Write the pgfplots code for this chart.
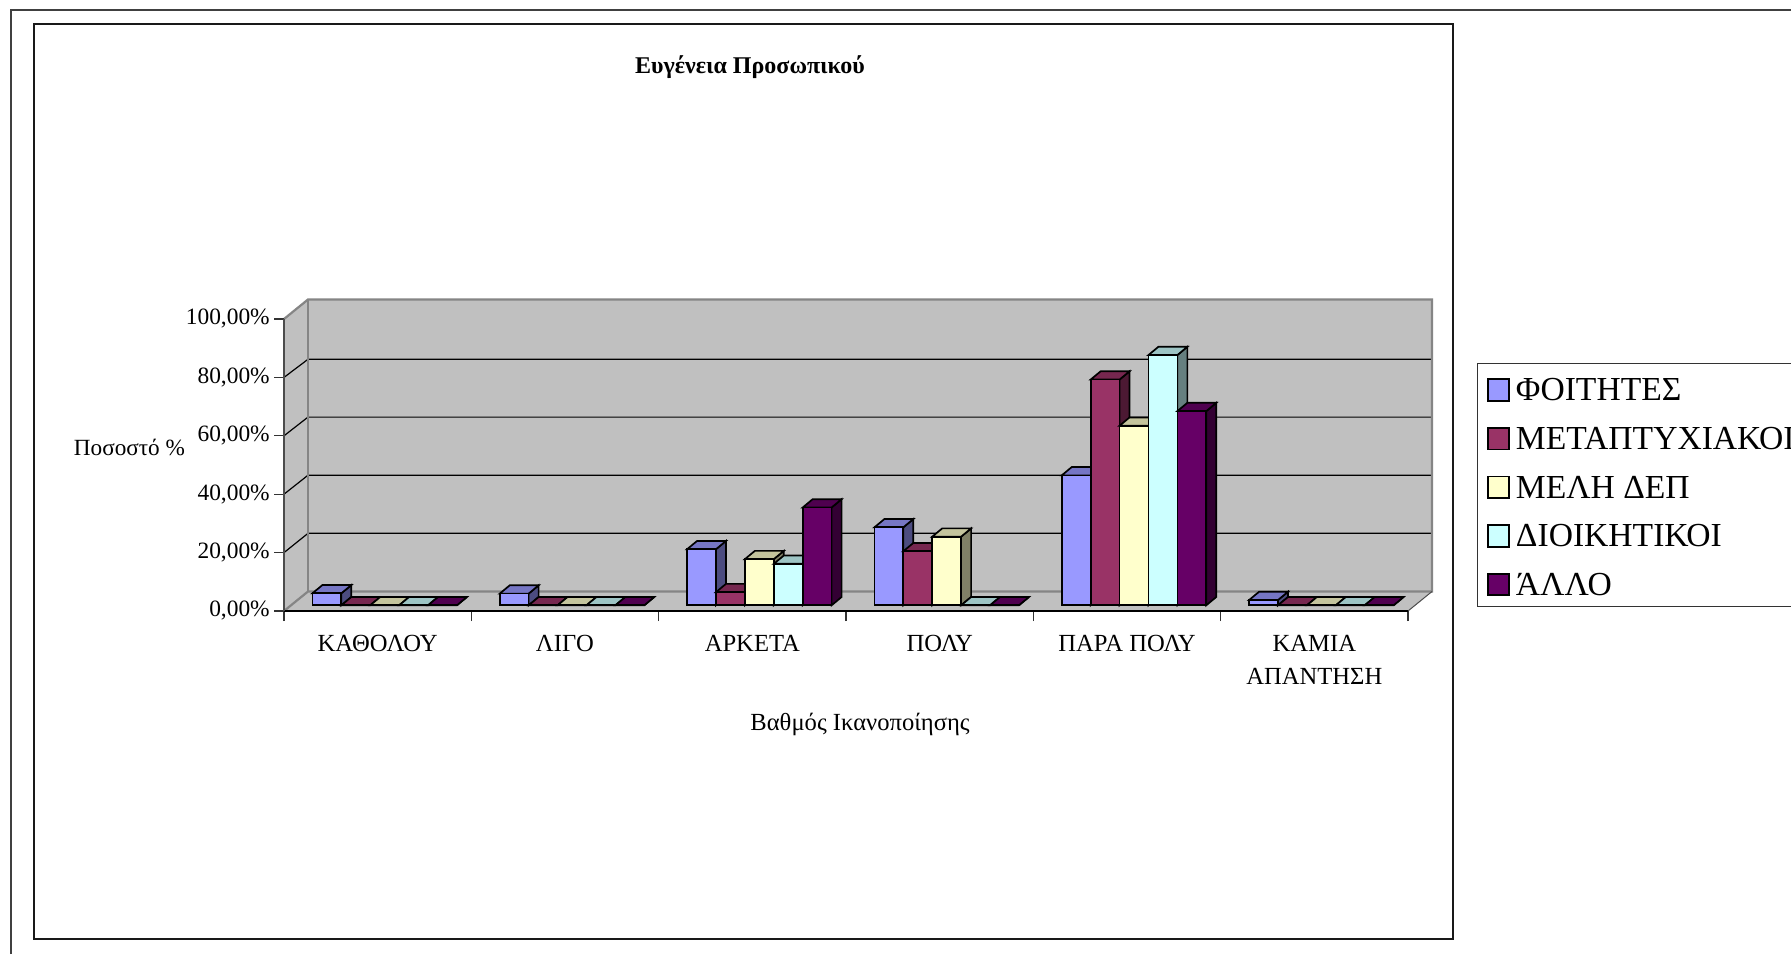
\documentclass[border=0pt]{standalone}
\usepackage{fontspec}
\setmainfont{Liberation Serif}
\usepackage{pgfplots}
\usepackage{pgfplotstable}
\pgfplotsset{compat=1.18}

\definecolor{wall}{HTML}{C0C0C0}
\definecolor{wallline}{HTML}{858585}
\definecolor{sA}{HTML}{9999FF}
\definecolor{sB}{HTML}{993366}
\definecolor{sC}{HTML}{FFFFCC}
\definecolor{sD}{HTML}{CCFFFF}
\definecolor{sE}{HTML}{660066}

% Share of answers (%) per satisfaction level and respondent group
\pgfplotstableread{
c s1   s2   s3   s4   s5
0 4.1  0    0    0    0
1 4.0  0    0    0    0
2 19.2 4.5  15.8 14.2 33.5
3 26.7 18.5 23.5 0    0
4 44.5 77.3 61.5 85.7 66.5
5 1.8  0    0    0    0
}\barvalues

\def\barw{0.1543}
\def\depx{0.05338}
\def\depy{2.842}

% Top and side faces of every column in one series
\newcommand{\depthfaces}[2]{%
  \pgfplotsforeachungrouped \c in {0,...,5}{%
    \pgfplotstablegetelem{\c}{s#1}\of\barvalues
    \pgfmathsetmacro\yt{\pgfplotsretval}%
    \pgfmathsetmacro\xl{\c+0.5+(#1-3)*\barw-\barw/2}%
    \pgfmathsetmacro\xr{\xl+\barw}%
    \pgfmathsetmacro\xlb{\xl+\depx}%
    \pgfmathsetmacro\xrb{\xr+\depx}%
    \pgfmathsetmacro\ytb{\yt+\depy}%
    \edef\facecmd{%
      \noexpand\addplot[forget plot,fill=#2!50!black,draw=black,line width=0.85pt]
        coordinates {(\xr,0) (\xrb,\depy) (\xrb,\ytb) (\xr,\yt)} -- cycle;
      \noexpand\addplot[forget plot,fill=#2!77!black,draw=black,line width=0.85pt]
        coordinates {(\xl,\yt) (\xlb,\ytb) (\xrb,\ytb) (\xr,\yt)} -- cycle;
    }\facecmd
  }%
}

% Front faces of one series, plain bars read from the table
\newcommand{\frontfaces}[2]{%
  \addplot[ybar,bar width=\barw,bar shift=0pt,fill=#2,draw=black,line width=0.85pt,
    legend image code/.code={\draw[fill=#2,draw=black,line width=0.95pt] (0pt,0pt) rectangle (10.4pt,10.8pt);}]
    table[x expr=\thisrow{c}+0.5+(#1-3)*\barw,y=s#1]{\barvalues};
}

\begin{document}
\begin{tikzpicture}
\useasboundingbox (0,0) rectangle (895.5pt,477pt);
\clip (0,0) rectangle (895.5pt,477pt);
\fill[white] (0,0) rectangle (895.5pt,477pt);

% Outer frame, open on the right and at the bottom, and inner chart frame
\draw[black!75,line width=0.65pt] (5.5pt,0) -- (5.5pt,472pt) -- (900pt,472pt);
\draw[black!90,line width=0.6pt] (17pt,7.5pt) rectangle (726.5pt,465pt);

% Walls, floor, gridlines and scales
\begin{axis}[
  at={(142pt,171.5pt)},anchor=south west,
  scale only axis,width=562pt,height=146pt,
  xmin=0,xmax=6,ymin=0,ymax=100,clip=false,axis on top,
  axis x line=bottom,axis y line=left,
  axis line style={-,line width=0.7pt},
  x axis line style={black},
  y axis line style={black!70},
  tick style={black!80,line width=0.55pt},
  tick align=outside,
  major tick length=5pt,
  xtick={0,1,2,3,4,5,6},
  x tick label as interval,
  xticklabels={ΚΑΘΟΛΟΥ,ΛΙΓΟ,ΑΡΚΕΤΑ,ΠΟΛΥ,ΠΑΡΑ ΠΟΛΥ,{ΚΑΜΙΑ\\ΑΠΑΝΤΗΣΗ}},
  xticklabel style={align=center,font=\fontsize{12.3pt}{16.5pt}\selectfont,anchor=north,yshift=-3.8pt},
  ytick={0,20,40,60,80,100},
  yticklabels={{0,00\%},{20,00\%},{40,00\%},{60,00\%},{80,00\%},{100,00\%}},
  yticklabel style={font=\fontsize{11.7pt}{13pt}\selectfont,xshift=1.4pt},
  title={\textbf{Ευγένεια Προσωπικού}},
  title style={at={(axis description cs:0.4146,1.823)},anchor=center,yshift=0pt,font=\fontsize{12pt}{14pt}\selectfont},
  xlabel={Βαθμός Ικανοποίησης},
  xlabel style={at={(axis description cs:0.5125,-0.3836)},anchor=center,yshift=-0.6pt,font=\fontsize{12.3pt}{14pt}\selectfont},
  ylabel={Ποσοστό \%},
  ylabel style={at={(axis description cs:-0.1375,0.5616)},anchor=center,rotate=-90,font=\fontsize{11.6pt}{13pt}\selectfont},
]
\fill[wall] (axis cs:0,0) -- (axis cs:0.1281,6.68) -- (axis cs:0.1281,106.68) -- (axis cs:0,100) -- cycle;
\fill[wall] (axis cs:0.1281,6.68) rectangle (axis cs:6.1281,106.68);
\fill[wall] (axis cs:0,0) -- (axis cs:6,0) -- (axis cs:6.1281,6.68) -- (axis cs:0.1281,6.68) -- cycle;
% Gridlines run up the side wall and along the back wall
\draw[black,line width=0.6pt] (axis cs:0,20) -- (axis cs:0.1281,26.6) -- (axis cs:6.1281,26.6);
\draw[black,line width=0.6pt] (axis cs:0,40) -- (axis cs:0.1281,46.5) -- (axis cs:6.1281,46.5);
\draw[black,line width=0.6pt] (axis cs:0,60) -- (axis cs:0.1281,66.4) -- (axis cs:6.1281,66.4);
\draw[black,line width=0.6pt] (axis cs:0,80) -- (axis cs:0.1281,86.2) -- (axis cs:6.1281,86.2);
% Edges of the walls and floor
\draw[wallline,line width=1.1pt] (axis cs:0,100) -- (axis cs:0.1281,106.68) -- (axis cs:6.1281,106.68) -- (axis cs:6.1281,6.68) -- (axis cs:0.1281,6.68) -- (axis cs:0,0);
\draw[wallline,line width=1.1pt] (axis cs:0.1281,106.68) -- (axis cs:0.1281,6.68);
\draw[black!70,line width=0.5pt] (axis cs:6,0) -- (axis cs:6.1281,6.68);
\end{axis}

% Columns, set back from the front edge of the floor
\begin{axis}[
  at={(145.5pt,174.35pt)},anchor=south west,
  scale only axis,width=562pt,height=146pt,
  xmin=0,xmax=6,ymin=0,ymax=100,clip=false,
  hide axis,
  legend style={
    at={(axis description cs:1.0552,0.8288)},anchor=north west,
    draw=black!80,line width=0.6pt,fill=white,
    font=\fontsize{16.8pt}{20pt}\selectfont,
    inner xsep=4.6pt,inner ysep=0pt,
    row sep=0pt,
    nodes={inner xsep=0pt,inner ysep=0pt,text height=18.5pt,text depth=5.8pt,anchor=base west},
    /tikz/every odd column/.append style={column sep=3.2pt},
  },
  legend cell align=left,
]
\depthfaces{1}{sA}\frontfaces{1}{sA}
\depthfaces{2}{sB}\frontfaces{2}{sB}
\depthfaces{3}{sC}\frontfaces{3}{sC}
\depthfaces{4}{sD}\frontfaces{4}{sD}
\depthfaces{5}{sE}\frontfaces{5}{sE}
\legend{ΦΟΙΤΗΤΕΣ,ΜΕΤΑΠΤΥΧΙΑΚΟΙ,ΜΕΛΗ ΔΕΠ,ΔΙΟΙΚΗΤΙΚΟΙ,ΆΛΛΟ}
\end{axis}
\end{tikzpicture}
\end{document}
